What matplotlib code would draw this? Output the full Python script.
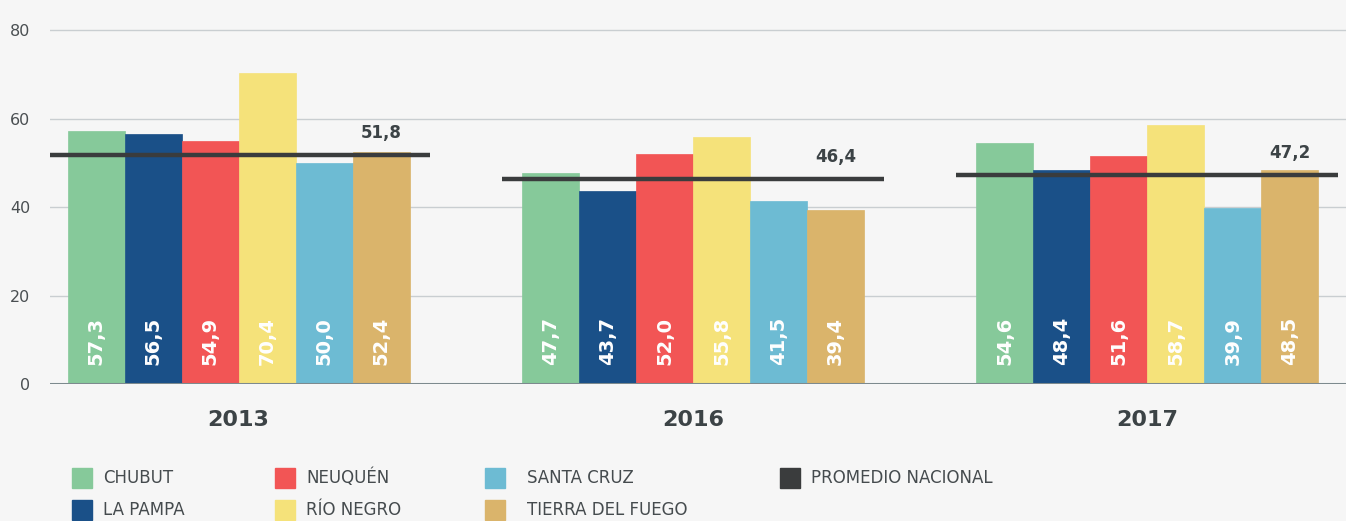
import matplotlib.pyplot as plt
import numpy as np
from matplotlib.patches import Rectangle
from matplotlib.transforms import blended_transform_factory

years = ["2013", "2016", "2017"]
provinces = ["CHUBUT", "LA PAMPA", "NEUQUÉN", "RÍO NEGRO", "SANTA CRUZ", "TIERRA DEL FUEGO"]
values = [
    [57.3, 47.7, 54.6],  # Chubut
    [56.5, 43.7, 48.4],  # La Pampa
    [54.9, 52.0, 51.6],  # Neuquén
    [70.4, 55.8, 58.7],  # Río Negro
    [50.0, 41.5, 39.9],  # Santa Cruz
    [52.4, 39.4, 48.5],  # Tierra del Fuego
]
national_avg = [51.8, 46.4, 47.2]
avg_label = "PROMEDIO NACIONAL"

colors = ["#86C99A", "#1A5088", "#F25555", "#F5E27A", "#6DBBD3", "#DAB46B"]
avg_color = "#3A3C3D"
bg = "#F6F6F6"
text_dark = "#3C4346"


def fmt(v: float) -> str:
    return f"{v:.1f}".replace(".", ",")


fig = plt.figure(figsize=(13.46, 5.21), dpi=100, facecolor=bg)
ax = fig.add_axes([50 / 1346, 1 - 384 / 521, 1296 / 1346, 358 / 521], facecolor=bg)

x = np.arange(len(years))
width = 0.1254
n = len(provinces)

for i, (name, vals, col) in enumerate(zip(provinces, values, colors)):
    pos = x + (i - (n - 1) / 2) * width
    ax.bar(pos, vals, width=width, color=col, edgecolor=col, linewidth=0.5, zorder=2)
    for px, v in zip(pos, vals):
        ax.text(px, 4.4, fmt(v), rotation=90, ha="center", va="bottom",
                color="white", fontsize=14, fontweight="bold", zorder=4)

half = n * width / 2 + 0.044
for gx, avg in zip(x, national_avg):
    ax.plot([gx - half, gx + half], [avg, avg], color=avg_color, lw=3.2, zorder=3,
            solid_capstyle="butt")
    last = gx + (n - 1) / 2 * width
    ax.text(last, avg + 5, fmt(avg), ha="center", va="center", color=text_dark,
            fontsize=12, fontweight="bold", zorder=4)

ax.set_xlim(-0.415, 2.437)
ax.set_ylim(0, 81)
ax.set_yticks([0, 20, 40, 60, 80])
ax.grid(axis="y", color="#C9CED1", lw=1, zorder=0)
ax.axhline(0, color="#7D8A8E", lw=2.2, zorder=3)
for s in ax.spines.values():
    s.set_visible(False)
ax.tick_params(axis="y", length=0, labelsize=11.5, labelcolor="#4A4F52", pad=14)
ax.set_xticks([])

trans = blended_transform_factory(ax.transData, ax.transAxes)
for gx, yr in zip(x, years):
    ax.text(gx, -0.1, yr, transform=trans, ha="center", va="center",
            fontsize=16, fontweight="bold", color=text_dark)

# legend, drawn by hand to follow the original spacing
leg_names = provinces + [avg_label]
leg_colors = colors + [avg_color]
col_x = [72, 275, 485, 780]
text_dx = [31, 31, 42, 31]
row_y = [478, 510]
for k, (name, col) in enumerate(zip(leg_names, leg_colors)):
    c, r = divmod(k, 2)
    px, py = col_x[c], row_y[r]
    fig.add_artist(Rectangle((px / 1346, 1 - (py + 10) / 521), 20 / 1346, 20 / 521,
                             transform=fig.transFigure, color=col))
    fig.text((px + text_dx[c]) / 1346, 1 - py / 521, name, ha="left", va="center",
             fontsize=12, color="#454B4E")

fig.savefig("out.png", dpi=100, facecolor=bg)
